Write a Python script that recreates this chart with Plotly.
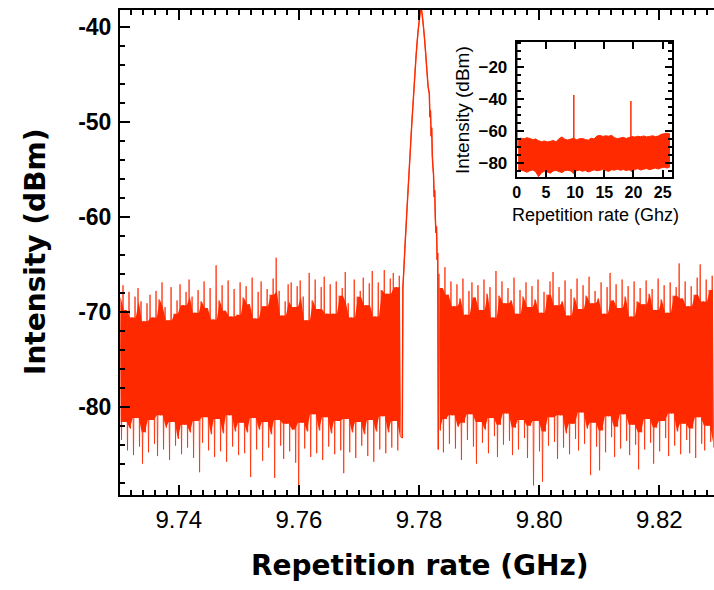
import numpy as np
import plotly.graph_objects as go

RED = "#ff2a00"

# ---------------- main spectrum (values in dBm) ----------------
left_start, right_start, step = 9.7302, 9.7833, 0.0005

left_top = [
    -68.5, -67.2, -69.8, -67.9, -70.6, -68.4, -67.5, -68.9, -71.0, -69.1,
    -68.2, -70.6, -67.8, -68.7, -66.9, -69.5, -70.9, -67.4, -70.2, -68.8,
    -67.1, -69.3, -67.9, -66.6, -68.4, -70.1, -67.7, -68.9, -66.8, -69.6,
    -67.5, -70.8, -65.1, -68.8, -67.2, -69.9, -66.7, -70.5, -67.6, -70.3,
    -66.9, -68.5, -67.3, -69.2, -66.4, -70.7, -67.9, -66.8, -69.4, -67.6,
    -68.2, -66.5, -64.3, -67.8, -70.4, -68.9, -67.1, -66.9, -69.5, -67.3,
    -66.7, -68.4, -70.9, -65.9, -68.8, -66.6, -69.7, -67.4, -66.3, -70.2,
    -67.1, -70.2, -66.8, -68.3, -67.5, -65.8, -69.1, -70.6, -66.6, -68.4,
    -67.8, -66.4, -69.3, -67.0, -65.7, -70.5, -66.9, -67.7, -65.6, -68.1,
    -66.5, -65.9, -67.4, -66.2,
]
left_bottom = [
    -83.5, -81.6, -84.6, -82.3, -85.1, -81.2, -84.2, -86.0, -82.7, -84.8,
    -81.4, -83.9, -85.2, -80.9, -84.5, -82.2, -85.6, -81.6, -84.1, -83.4,
    -85.0, -81.9, -84.3, -82.7, -85.4, -81.5, -86.9, -83.8, -81.1, -84.6,
    -82.9, -85.3, -81.3, -84.7, -82.8, -85.8, -80.9, -84.2, -82.6, -85.1,
    -81.7, -84.9, -82.7, -87.4, -81.2, -84.5, -82.4, -85.7, -81.6, -84.3,
    -82.9, -87.5, -81.4, -84.1, -85.5, -81.8, -84.7, -82.4, -85.9, -89.5,
    -81.7, -84.4, -82.6, -85.3, -80.8, -84.9, -82.5, -85.6, -81.1, -84.2,
    -82.8, -85.0, -81.5, -84.6, -87.0, -81.3, -84.8, -82.7, -85.4, -81.6,
    -84.1, -82.9, -85.2, -81.4, -85.8, -82.6, -84.5, -81.0, -84.9, -82.7,
    -84.3, -81.5, -84.6, -83.2,
]

peak_x = [9.7772, 9.7773, 9.7775, 9.7777, 9.7780, 9.7784, 9.7788, 9.7792, 9.7795,
          9.7798, 9.7801, 9.7803, 9.7805, 9.7807, 9.7809, 9.7811, 9.7813, 9.7815,
          9.7817, 9.7818, 9.7819, 9.7820, 9.7821, 9.7822, 9.7823, 9.7824, 9.7825,
          9.7826, 9.7827, 9.7828, 9.7829, 9.7830, 9.7831, 9.7832]
peak_y = [-83.3, -67.5, -65.0, -62.5, -59.0, -54.5, -50.0, -46.0, -43.0,
          -40.6, -38.9, -37.8, -38.6, -39.8, -41.2, -42.8, -44.6, -46.3,
          -47.0, -49.5, -48.8, -51.5, -50.6, -53.6, -54.7, -55.5, -57.9,
          -57.2, -60.1, -61.7, -61.0, -64.5, -63.8, -84.5]

right_top = [
    -66.0, -67.5, -65.3, -68.2, -66.8, -69.4, -67.1, -68.6, -66.5, -70.3,
    -67.8, -66.9, -68.5, -67.2, -69.8, -66.6, -68.1, -67.4, -70.6, -65.7,
    -68.3, -66.8, -69.1, -67.5, -68.8, -66.4, -70.2, -67.7, -68.4, -66.9,
    -69.5, -67.3, -68.7, -66.6, -70.1, -67.9, -68.2, -66.8, -65.8, -69.3,
    -67.4, -68.9, -66.7, -70.4, -67.6, -68.5, -66.5, -69.7, -67.2, -68.3,
    -66.3, -69.1, -67.8, -68.6, -66.9, -70.2, -67.4, -65.9, -68.8, -67.1,
    -69.6, -66.6, -68.4, -67.3, -70.5, -66.8, -68.9, -67.5, -69.2, -66.7,
    -68.1, -67.6, -69.8, -66.5, -68.7, -67.2, -70.1, -66.9, -68.3, -67.4,
    -64.9, -68.6, -66.8, -69.4, -67.3, -68.2, -66.4, -65.0, -68.9, -66.6,
    -67.7, -66.2,
]
right_bottom = [
    -82.5, -84.8, -81.3, -83.9, -80.9, -84.4, -82.1, -85.6, -81.7, -83.5,
    -80.8, -84.2, -86.0, -81.6, -83.8, -82.4, -84.9, -81.2, -83.1, -85.3,
    -81.9, -84.0, -80.7, -83.6, -85.1, -82.2, -84.5, -81.4, -83.3, -85.4,
    -82.0, -88.3, -81.5, -84.7, -87.9, -82.6, -84.1, -81.1, -83.7, -85.5,
    -80.9, -84.3, -82.8, -85.0, -81.8, -83.4, -84.6, -80.6, -83.9, -82.3,
    -87.2, -81.7, -84.2, -86.7, -82.5, -84.8, -81.0, -83.2, -85.3, -82.1,
    -84.4, -80.8, -83.6, -85.1, -81.9, -84.0, -86.6, -82.7, -84.5, -81.3,
    -83.8, -86.0, -82.2, -84.7, -81.5, -83.3, -85.2, -80.7, -84.1, -82.6,
    -85.0, -81.8, -83.5, -84.9, -82.3, -85.4, -81.1, -83.9, -84.6, -82.0,
    -83.7, -84.3,
]

# ---------------- inset: full span 0-26.5 GHz ----------------
inset_start, inset_step = 0.25, 0.5
inset_top = [
    -65.2, -64.6, -65.0, -64.3, -64.8, -65.5, -65.1, -66.2, -66.8, -66.4,
    -67.0, -66.6, -66.1, -66.9, -64.9, -63.8, -65.3, -65.8, -65.2, -64.7,
    -65.6, -65.0, -64.8, -65.4, -65.9, -64.6, -65.1, -63.2, -62.9, -63.5,
    -63.1, -63.4, -62.8, -64.3, -64.9, -64.5, -64.1, -64.8, -64.2, -63.6,
    -63.9, -63.4, -63.7, -63.2, -63.8, -63.5, -63.1, -63.6, -63.3, -62.2,
    -61.8, -61.5, -62.0,
]
inset_bottom = [
    -85.5, -84.8, -85.2, -86.0, -85.1, -84.6, -85.7, -88.8, -86.3, -85.4,
    -85.9, -86.6, -85.2, -84.9, -85.6, -86.2, -85.0, -84.7, -85.3, -86.8,
    -85.1, -84.6, -85.4, -84.9, -85.8, -85.2, -84.5, -85.1, -84.8, -84.2,
    -84.9, -85.5, -84.4, -84.7, -84.1, -84.8, -84.3, -84.9, -84.5, -85.6,
    -84.2, -83.8, -84.6, -84.1, -83.7, -84.4, -83.9, -83.4, -84.0, -83.2,
    -82.8, -83.4, -82.6,
]
inset_peak_x = [0.05, 9.78, 19.56]
inset_peak_y = [0.0, -37.5, -41.3]
inset_base = -70.0

main_x_ticks = [9.74, 9.76, 9.78, 9.80, 9.82]
main_y_ticks = [-40, -50, -60, -70, -80]
inset_x_ticks = [0, 5, 10, 15, 20, 25]
inset_y_ticks = [-20, -40, -60, -80]


def zigzag(start, top, bottom):
    n = len(top)
    grid = start + step * np.arange(n)
    xs = np.empty(2 * n)
    ys = np.empty(2 * n)
    xs[0::2] = grid
    xs[1::2] = grid + step / 2
    ys[0::2] = top
    ys[1::2] = bottom
    return xs, ys


def core(start, top, bottom):
    """Solid core of the noise band: where neighbouring traces overlap."""
    t = np.array(top)
    b = np.array(bottom)
    tp = np.pad(t, 1, mode="edge")
    bp = np.pad(b, 1, mode="edge")
    ct = np.minimum(np.minimum(tp[:-2], tp[1:-1]), tp[2:])
    cb = np.maximum(np.maximum(bp[:-2], bp[1:-1]), bp[2:])
    grid = start + step * np.arange(len(t)) + step / 4
    return grid, ct, cb


fig = go.Figure()

for st, tp_, bt_ in [(left_start, left_top, left_bottom),
                     (right_start, right_top, right_bottom)]:
    g, ct, cb = core(st, tp_, bt_)
    fig.add_trace(go.Scatter(x=g, y=cb, mode="lines",
                             line=dict(color=RED, width=0, simplify=False),
                             hoverinfo="skip", showlegend=False))
    fig.add_trace(go.Scatter(x=g, y=ct, mode="lines", fill="tonexty",
                             fillcolor=RED,
                             line=dict(color=RED, width=0, simplify=False),
                             hoverinfo="skip", showlegend=False))

lx, ly = zigzag(left_start, left_top, left_bottom)
rx, ry = zigzag(right_start, right_top, right_bottom)
main_x = np.concatenate([lx, peak_x, rx])
main_y = np.concatenate([ly, peak_y, ry])
fig.add_trace(go.Scatter(x=main_x, y=main_y, mode="lines",
                         line=dict(color=RED, width=0.8, simplify=False),
                         hoverinfo="skip", showlegend=False))
fig.add_trace(go.Scatter(x=peak_x, y=peak_y, mode="lines",
                         line=dict(color=RED, width=1.4, simplify=False),
                         hoverinfo="skip", showlegend=False))

ix = inset_start + inset_step * np.arange(len(inset_top))
fig.add_trace(go.Scatter(x=ix, y=inset_bottom, mode="lines",
                         line=dict(color=RED, width=1, simplify=False),
                         xaxis="x2", yaxis="y2",
                         showlegend=False, hoverinfo="skip"))
fig.add_trace(go.Scatter(x=ix, y=inset_top, mode="lines", fill="tonexty",
                         fillcolor=RED, line=dict(color=RED, width=1, simplify=False),
                         xaxis="x2", yaxis="y2", showlegend=False, hoverinfo="skip"))
px_, py_ = [], []
for xv, yv in zip(inset_peak_x, inset_peak_y):
    px_ += [xv, xv, None]
    py_ += [inset_base, yv, None]
fig.add_trace(go.Scatter(x=px_, y=py_, mode="lines",
                         line=dict(color=RED, width=1.5), xaxis="x2", yaxis="y2",
                         showlegend=False, hoverinfo="skip"))

L, R, T, B = 120, 0, 10, 95
W, H = 714, 590
pw, ph = W - L - R, H - T - B


def fx(p):
    return (p - L) / pw


def fy(p):
    return (H - B - p) / ph


axis_common = dict(showline=True, linewidth=2, linecolor="black", ticks="inside",
                   tickcolor="black", showgrid=False, zeroline=False,
                   automargin=False)

fig.update_layout(
    width=W, height=H,
    margin=dict(l=L, r=R, t=T, b=B, autoexpand=False),
    paper_bgcolor="white", plot_bgcolor="white",
    xaxis=dict(**axis_common, domain=[0, 1], range=[9.7302, 9.8291],
               tickvals=main_x_ticks, ticktext=[f"{v:.2f}" for v in main_x_ticks],
               ticklen=10, tickwidth=2, mirror="ticks",
               minor=dict(ticks="inside", dtick=0.002, tick0=9.74, ticklen=5,
                          tickwidth=1.5, tickcolor="black"),
               tickfont=dict(family="Liberation Sans", size=24, color="black"),
               ticklabelstandoff=2),
    yaxis=dict(**axis_common, domain=[0, 1], range=[-89.3, -38.2],
               tickvals=main_y_ticks, ticktext=[str(v) for v in main_y_ticks],
               ticklen=10, tickwidth=2,
               minor=dict(ticks="inside", dtick=2, tick0=-40, ticklen=5,
                          tickwidth=1.5, tickcolor="black"),
               tickfont=dict(family="Liberation Sans", size=23, color="black",
                             weight="bold"),
               ticklabelstandoff=2),
    xaxis2=dict(**axis_common, domain=[fx(516.7), fx(672)], anchor="y2",
                range=[0, 26.6], tickvals=inset_x_ticks, mirror="ticks",
                ticklen=7, tickwidth=1.5,
                tickfont=dict(family="Liberation Sans", size=16, color="black",
                              weight="bold"),
                ticklabelstandoff=0),
    yaxis2=dict(**axis_common, domain=[fy(177), fy(41.7)], anchor="x2",
                range=[-89, -4], tickvals=inset_y_ticks, mirror="ticks",
                ticklen=7, tickwidth=1.5,
                minor=dict(ticks="inside", dtick=5, tick0=-20, ticklen=4,
                           tickwidth=1.5, tickcolor="black"),
                tickfont=dict(family="Liberation Sans", size=17, color="black",
                              weight="bold"),
                ticklabelstandoff=4),
    annotations=[
        dict(text="Repetition rate (GHz)", x=fx(420), y=fy(565), xref="paper",
             yref="paper", showarrow=False, xanchor="center", yanchor="middle",
             font=dict(family="DejaVu Sans", size=28, color="black", weight="bold")),
        dict(text="Intensity (dBm)", x=fx(35), y=fy(252), xref="paper",
             yref="paper", showarrow=False, xanchor="center", yanchor="middle",
             textangle=-90,
             font=dict(family="DejaVu Sans", size=28, color="black", weight="bold")),
        dict(text="Repetition rate (Ghz)", x=fx(595.5), y=fy(215), xref="paper",
             yref="paper", showarrow=False, xanchor="center", yanchor="middle",
             font=dict(family="Liberation Sans", size=18, color="black")),
        dict(text="Intensity (dBm)", x=fx(462), y=fy(110), xref="paper",
             yref="paper", showarrow=False, xanchor="center", yanchor="middle",
             textangle=-90,
             font=dict(family="Liberation Sans", size=19, color="black")),
    ],
)

fig.write_html("out.html", config={"displayModeBar": False},
               post_script="document.body.style.margin='0';"
                           "document.body.style.overflow='hidden';")
